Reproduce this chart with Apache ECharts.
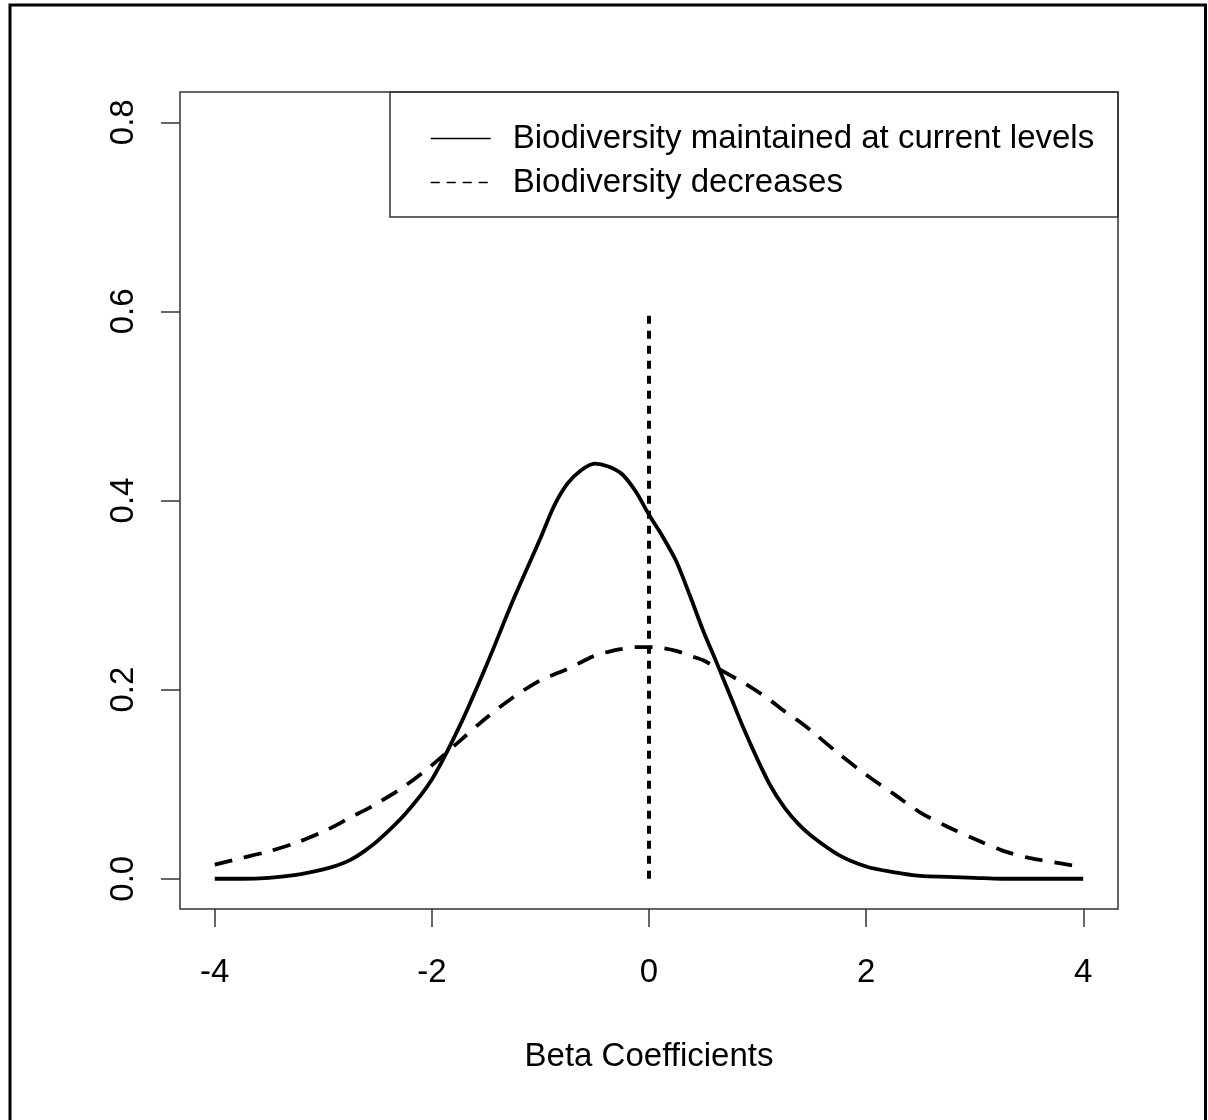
<!DOCTYPE html>
<html>
<head>
<meta charset="utf-8">
<script src="https://cdn.jsdelivr.net/npm/echarts@6/dist/echarts.min.js"></script>
<style>
html,body{margin:0;padding:0;background:#fff;}
#chart{width:1208px;height:1120px;}
</style>
</head>
<body>
<div id="chart"></div>
<script>
// beta values along the x axis
var betaX = [-4, -3.75, -3.5, -3.25, -3, -2.875, -2.75, -2.625, -2.5, -2.25, -2, -1.75, -1.5, -1.25, -1, -0.875, -0.75, -0.625, -0.5, -0.375, -0.25, -0.125,
	0, 0.125, 0.25, 0.375, 0.5, 0.625, 0.75, 0.875, 1, 1.125, 1.25, 1.375, 1.5, 1.75, 2, 2.25, 2.5, 2.75, 3, 3.25, 3.5, 3.75, 4];
// density, biodiversity kept
var keptY = [0.000, 0.000, 0.001, 0.004, 0.010, 0.014, 0.020, 0.029, 0.040, 0.068, 0.105, 0.160, 0.225, 0.295, 0.360, 0.394, 0.418, 0.432, 0.439, 0.436, 0.428, 0.410,
	0.385, 0.362, 0.336, 0.300, 0.262, 0.228, 0.193, 0.158, 0.126, 0.097, 0.075, 0.058, 0.045, 0.025, 0.013, 0.007, 0.003, 0.002, 0.001, 0.000, 0.000, 0.000, 0.000];
// density, biodiversity decreases
var decY = [0.015, 0.022, 0.029, 0.038, 0.050, 0.057, 0.065, 0.072, 0.080, 0.098, 0.120, 0.145, 0.170, 0.192, 0.210, 0.216, 0.222, 0.229, 0.236, 0.240, 0.243, 0.245,
	0.245, 0.244, 0.241, 0.236, 0.231, 0.223, 0.215, 0.207, 0.198, 0.188, 0.177, 0.167, 0.156, 0.132, 0.110, 0.090, 0.070, 0.055, 0.042, 0.030, 0.022, 0.017, 0.012];
// vertical reference line at zero
var refX = [0, 0];
var refY = [0, 0.6];
var xTicks = [-4, -2, 0, 2, 4];
var yTicks = [0, 0.2, 0.4, 0.6, 0.8];
var names = ["Biodiversity maintained at current levels", "Biodiversity decreases"];

function pairs(xs, ys){
	var out = [];
	for (var i = 0; i < xs.length; i++) out.push([xs[i], ys[i]]);
	return out;
}

var font = "'Liberation Sans', Arial, sans-serif";
var myChart = echarts.init(document.getElementById('chart'));
var option = {
	animation: false,
	backgroundColor: '#fff',
	color: ['#000', '#000', '#000'],
	textStyle: {fontFamily: font},
	grid: {left: 180, right: 90, top: 92, bottom: 211, show: true, borderColor: '#333', borderWidth: 1.5, containLabel: false},
	legend: {
		orient: 'vertical',
		left: 430,
		top: 122,
		padding: 0,
		itemWidth: 60,
		itemHeight: 14,
		itemGap: 11,
		selectedMode: false,
		itemStyle: {opacity: 0},
		textStyle: {fontSize: 33, color: '#000', fontFamily: font, lineHeight: 32, padding: [0, 0, 0, 17]},
		data: [
			{name: names[0], lineStyle: {width: 1.5, type: 'solid', color: '#000'}},
			{name: names[1], lineStyle: {width: 1.5, type: [9, 7], color: '#000'}}
		]
	},
	xAxis: {
		type: 'value',
		min: -4.32,
		max: 4.32,
		axisLine: {show: false, onZero: false},
		splitLine: {show: false},
		axisTick: {show: true, customValues: xTicks, length: 18, lineStyle: {color: '#333', width: 1.5}},
		axisLabel: {customValues: xTicks, margin: 47, fontSize: 33, color: '#000', fontFamily: font},
		name: 'Beta Coefficients',
		nameLocation: 'middle',
		nameGap: 131,
		nameTextStyle: {fontSize: 33, color: '#000', fontFamily: font}
	},
	yAxis: {
		type: 'value',
		min: -0.032,
		max: 0.832,
		axisLine: {show: false, onZero: false},
		splitLine: {show: false},
		axisTick: {show: true, customValues: yTicks, length: 19, lineStyle: {color: '#333', width: 1.5}},
		axisLabel: {customValues: yTicks, rotate: 90, margin: 40, fontSize: 33, color: '#000', fontFamily: font,
			formatter: function(v){ return v.toFixed(1); }}
	},
	graphic: [
		{type: 'rect', shape: {x: 10, y: 5, width: 1195.5, height: 1130}, style: {fill: 'none', stroke: '#000', lineWidth: 3}, silent: true},
		{type: 'rect', shape: {x: 390, y: 92, width: 728, height: 125}, style: {fill: 'none', stroke: '#333', lineWidth: 1.5}, silent: true}
	],
	series: [
		{
			name: names[0],
			type: 'line',
			data: pairs(betaX, keptY),
			symbol: 'none',
			smooth: 0.3,
			lineStyle: {color: '#000', width: 3.8, type: 'solid'}
		},
		{
			name: names[1],
			type: 'line',
			data: pairs(betaX, decY),
			symbol: 'none',
			smooth: 0.3,
			lineStyle: {color: '#000', width: 3.8, type: [18, 12]}
		},
		{
			name: 'zero',
			type: 'line',
			data: pairs(refX, refY),
			symbol: 'none',
			lineStyle: {color: '#000', width: 4, type: [8, 7]}
		}
	]
};
myChart.setOption(option);
</script>
</body>
</html>
